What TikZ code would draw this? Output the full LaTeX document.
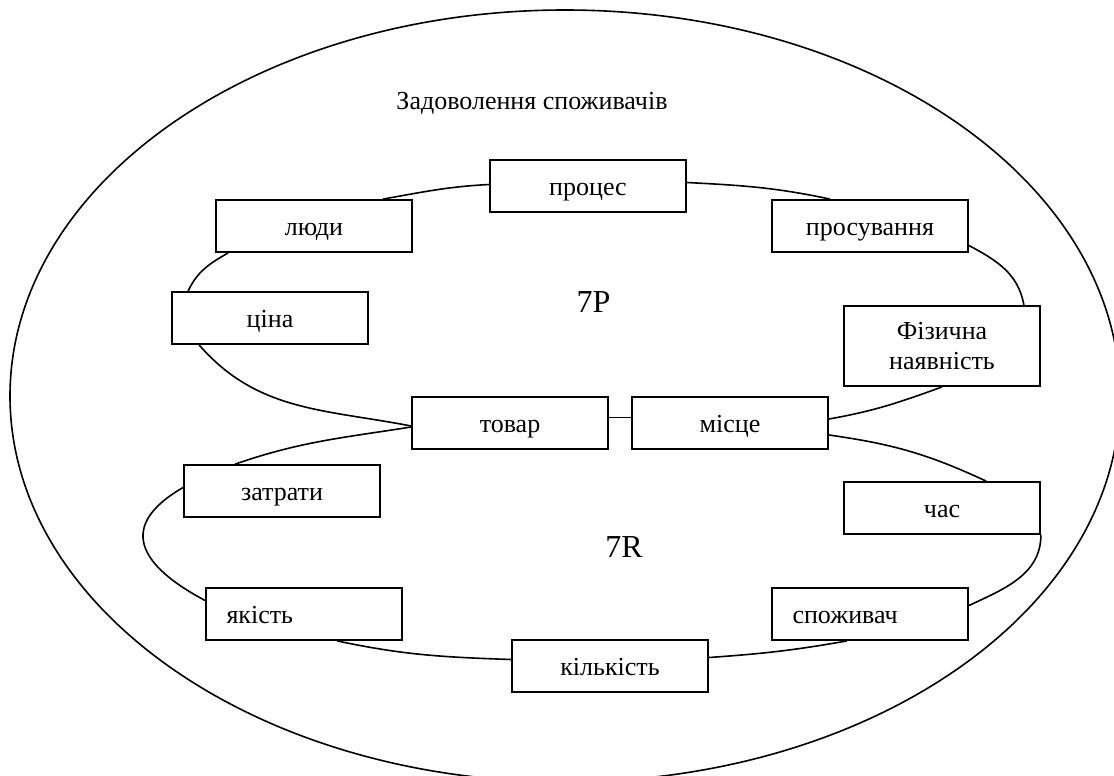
\documentclass[tikz,border=0pt]{standalone}
\usepackage{fontspec}
\setmainfont{Liberation Serif}
\usetikzlibrary{calc}
\tikzset{
  base/.style={draw, fill=white, line width=1.8pt, inner sep=0pt, minimum width=196pt,
    font=\fontsize{26}{30}\selectfont},
  box/.style={base, minimum height=52pt, text height=22pt, text depth=3pt},
  lbox/.style={text width=155pt, align=left},
  twobox/.style={base, minimum height=80pt, align=center},
  link/.style={line width=1.6pt},
  lbl/.style={anchor=base, inner sep=0pt, font=\fontsize{26}{30}\selectfont},
  big/.style={anchor=base, inner sep=0pt, font=\fontsize{32}{36}\selectfont}
}
\begin{document}
\begin{tikzpicture}[x=1pt,y=1pt]
\useasboundingbox (0,0) rectangle (1114,-776);
\fill[white] (0,0) rectangle (1114,-776);
\begin{scope}
\clip (0,0) rectangle (1114,-776);
\draw[link] (565,-396) ellipse [x radius=555, y radius=386];
\end{scope}

\node[lbl] (title) at (532,-109) {Задоволення споживачів};
\node[big] (p7) at (593.5,-312) {7P};
\node[big] (r7) at (624,-557) {7R};

\node[box] (proc) at (588,-186) {процес};
\node[box] (lyudy) at (314,-226) {люди};
\node[box] (cina) at (270,-318) {ціна};
\node[box] (prosuv) at (870,-226) {просування};
\node[twobox] (fiz) at (942,-346) {Фізична\\наявність};
\node[box] (misce) at (730,-423) {місце};
\node[box] (tovar) at (510,-423) {товар};
\node[box] (zatr) at (282,-491) {затрати};
\node[box,lbox] (yak) at (304,-614) {якість};
\node[box] (kilk) at (610,-666) {кількість};
\node[box] (chas) at (942,-508) {час};
\node[box,lbox] (spozh) at (870,-614) {споживач};

% 7P loop
\draw[link] ($(cina.south west)+(28,0)$) to[out=-49,in=169] ($(tovar.west)+(0,-3)$);
\draw[link] ($(cina.north west)+(17,0)$) to[out=65,in=-150] ($(lyudy.south west)+(13,0)$);
\draw[link] ($(lyudy.north east)+(-30,0)$) to[out=10,in=-177] ($(proc.west)+(0,1.5)$);
\draw[link] ($(proc.east)+(0,3.5)$) to[out=-3,in=168] ($(prosuv.north west)+(59,0)$);
\draw[link] ($(prosuv.east)+(0,-19.5)$) to[out=-28,in=100] ($(fiz.north east)+(-17,0)$);
\draw[link] ($(fiz.south west)+(99,0)$) to[out=-160,in=10] ($(misce.east)+(0,4)$);
\draw[link] ($(tovar.east)+(0,5.5)$) -- ($(misce.west)+(0,5.5)$);
% 7R loop
\draw[link] ($(tovar.west)+(0,-4)$) to[out=-171,in=19] ($(zatr.north west)+(52,0)$);
\draw[link] ($(zatr.west)+(0,3.5)$) to[out=210,in=152,distance=76] ($(yak.west)+(0,13.5)$);
\draw[link] ($(yak.south west)+(132,0)$) to[out=-12,in=178] ($(kilk.west)+(0,6.5)$);
\draw[link] ($(kilk.east)+(0,8.5)$) to[out=4,in=-170] ($(spozh.south west)+(76,0)$);
\draw[link] ($(spozh.east)+(0,8.5)$) to[out=25,in=-90] (chas.south east);
\draw[link] ($(chas.north west)+(143,0)$) to[out=155,in=-8] ($(misce.east)+(0,-12)$);
\end{tikzpicture}
\end{document}
